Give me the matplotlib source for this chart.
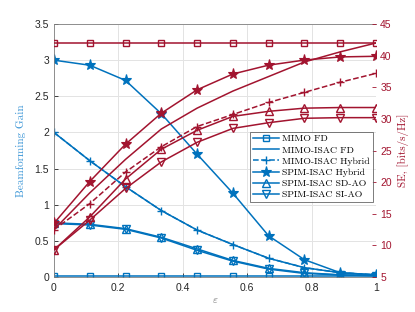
import numpy as np
import matplotlib
matplotlib.use("Agg")
import matplotlib.pyplot as plt

# data
eps = np.linspace(0, 1, 10)

# left axis: beamforming gain
gain_mimo_fd = [0.02] * 10
gain_mimo_isac_fd = [2.0, 1.61, 1.25, 0.92, 0.65, 0.45, 0.26, 0.13, 0.06, 0.03]
gain_mimo_isac_hyb = [2.0, 1.61, 1.25, 0.92, 0.65, 0.45, 0.26, 0.13, 0.06, 0.03]
gain_spim_hyb = [3.0, 2.93, 2.72, 2.26, 1.70, 1.16, 0.57, 0.24, 0.06, 0.03]
gain_spim_sd = [0.75, 0.73, 0.67, 0.55, 0.39, 0.23, 0.12, 0.06, 0.03, 0.02]
gain_spim_si = [0.74, 0.72, 0.66, 0.54, 0.37, 0.22, 0.11, 0.05, 0.03, 0.02]

# right axis: spectral efficiency
se_mimo_fd = [42.0] * 10
se_mimo_isac_fd = [12.5, 18.3, 23.6, 28.4, 31.7, 34.4, 36.7, 39.0, 40.6, 42.0]
se_mimo_isac_hyb = [12.5, 16.6, 21.6, 25.6, 28.8, 30.7, 32.6, 34.2, 35.8, 37.2]
se_spim_hyb = [13.5, 20.1, 26.0, 30.9, 34.6, 37.1, 38.5, 39.3, 39.8, 39.9]
se_spim_sd = [9.3, 14.5, 20.5, 25.2, 28.2, 30.4, 31.2, 31.7, 31.8, 31.8]
se_spim_si = [9.3, 14.0, 19.0, 23.2, 26.3, 28.5, 29.4, 30.1, 30.2, 30.2]

labels = ["MIMO FD", "MIMO-ISAC FD", "MIMO-ISAC Hybrid",
          "SPIM-ISAC Hybrid", "SPIM-ISAC SD-AO", "SPIM-ISAC SI-AO"]

BLUE = "#0072BD"
RED = "#A2142F"

plt.rcParams['mathtext.fontset'] = 'cm'
plt.rcParams['font.family'] = ['Liberation Sans', 'DejaVu Sans']

fig = plt.figure(figsize=(4.15, 3.12), dpi=100)
ax = fig.add_axes([0.13, 0.112, 0.776, 0.811])
ax2 = ax.twinx()

styles = [
    dict(ls='-', marker='s', ms=4.5, mfc='none', mew=1.0),
    dict(ls='-', marker=None),
    dict(ls='--', marker='+', ms=6, mew=1.0),
    dict(ls='-', marker='*', ms=8, mew=0.8),
    dict(ls='-', marker='^', ms=6, mfc='none', mew=1.0),
    dict(ls='-', marker='v', ms=6, mfc='none', mew=1.0),
]

gains = [gain_mimo_fd, gain_mimo_isac_fd, gain_mimo_isac_hyb,
         gain_spim_hyb, gain_spim_sd, gain_spim_si]
ses = [se_mimo_fd, se_mimo_isac_fd, se_mimo_isac_hyb,
       se_spim_hyb, se_spim_sd, se_spim_si]

handles = []
for g, st, lab in zip(gains, styles, labels):
    h, = ax.plot(eps, g, color=BLUE, lw=1.1, label=lab, **st)
    handles.append(h)
for s, st in zip(ses, styles):
    ax2.plot(eps, s, color=RED, lw=1.1, **st)

ax.set_xlim(0, 1)
ax.set_ylim(0, 3.5)
ax2.set_ylim(5, 45)
ax.set_xticks(np.arange(0, 1.01, 0.2))
ax.set_xticklabels(["0", "0.2", "0.4", "0.6", "0.8", "1"])
ax.set_yticks(np.arange(0, 3.51, 0.5))
ax.set_yticklabels(["0", "0.5", "1", "1.5", "2", "2.5", "3", "3.5"])
ax2.set_yticks(np.arange(5, 46, 5))

ax.grid(True, color='#e3e3e3', lw=0.7)
ax.set_axisbelow(True)

ax.tick_params(axis='both', direction='in', length=3, labelsize=7.5,
               colors='#262626', width=0.6)
ax.tick_params(axis='x', pad=4)
ax2.tick_params(axis='y', direction='in', length=3, labelsize=7.5,
                colors=RED, width=0.6, pad=3)
for sp in ['left', 'top', 'bottom']:
    ax.spines[sp].set_color('#808080')
    ax.spines[sp].set_linewidth(0.6)
ax.spines['right'].set_visible(False)
for sp in ax2.spines.values():
    sp.set_visible(False)

ax.set_xlabel(r'$\varepsilon$', fontsize=8, color='#808080', labelpad=2)
ax.set_ylabel("Beamforming Gain", fontsize=8, color='#3a95d6',
              family='cmr10', labelpad=6)
ax2.set_ylabel("SE, [bits/s/Hz]", fontsize=8, color=RED,
               family='cmr10', labelpad=4)

leg = ax2.legend(handles, labels, loc='upper left',
                 bbox_to_anchor=(0.61, 0.575),
                 prop={'family': 'cmr10', 'size': 7.0}, frameon=True,
                 fancybox=False, borderpad=0.3, labelspacing=0.25,
                 handlelength=2.6, handletextpad=0.4, borderaxespad=0)
leg.get_frame().set_edgecolor('#404040')
leg.get_frame().set_linewidth(0.6)

fig.savefig("out.png", dpi=100)
